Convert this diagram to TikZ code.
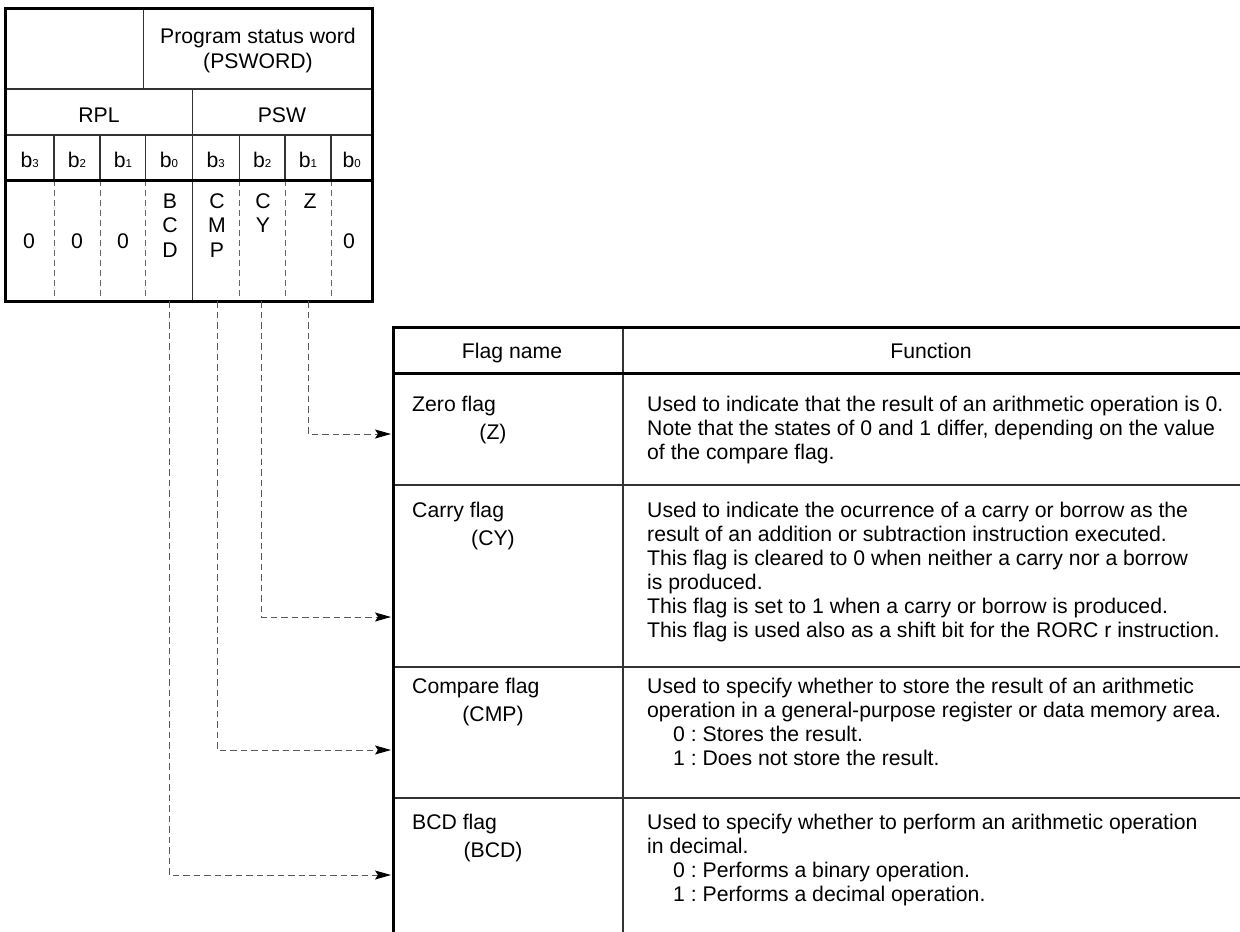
\documentclass[tikz,border=0pt]{standalone}
\usepackage{fontspec}
\setmainfont{Liberation Sans}
\usetikzlibrary{arrows.meta}
\frenchspacing
\newcommand{\llines}[1]{\begin{tabular}[t]{@{}l@{}}#1\end{tabular}}
\newcommand{\clines}[1]{\begin{tabular}[t]{@{}c@{}}#1\end{tabular}}
\newcommand{\bsub}[1]{b{\fontsize{11.5}{11.5}\selectfont #1}}
\newcommand{\ind}{\hspace*{26pt}}
\begin{document}
\begin{tikzpicture}[x=1pt,y=-1pt,
  font=\fontsize{21.2}{24}\selectfont,
  every node/.style={inner sep=0pt,text=black},
  thinline/.style={draw=black!80,line width=1.2pt},
  thickline/.style={draw=black,line width=3pt},
  sepdash/.style={draw=black!60,line width=1pt,dash pattern=on 6pt off 4pt},
  conn/.style={draw=black!65,line width=1pt,dash pattern=on 6.5pt off 4pt,
    -{Stealth[length=16pt,width=9pt,inset=3pt,color=black]}},
  txt/.style={anchor=base west},
  ctxt/.style={anchor=base}]
\useasboundingbox (0,0) rectangle (1240,932);

% ---------- top-left register table ----------
\draw[thinline] (5.5,89) -- (372.5,89);
\draw[thinline] (5.5,135) -- (372.5,135);
\draw[thinline] (143.5,8.5) -- (143.5,89);
\draw[thinline] (192.3,89) -- (192.3,301);
\foreach \x in {54,100,145.7,239.3,285,331}{
  \draw[thinline] (\x,135) -- (\x,180);
  \draw[sepdash] (\x,180) -- (\x,301);
}
\draw[thickline] (5.5,180) -- (372.5,180);
\draw[thickline] (5.5,8.5) rectangle (372.5,301);

\node[ctxt] (psword) at (258,43) {\clines{Program status word\\[1pt](PSWORD)}};
\node[ctxt] (rpl) at (99,122) {RPL};
\node[ctxt] (psw) at (282,122) {PSW};

\node[ctxt] (rb3) at (29.75,167) {\bsub{3}};
\node[ctxt] (rb2) at (77,167) {\bsub{2}};
\node[ctxt] (rb1) at (122.85,167) {\bsub{1}};
\node[ctxt] (rb0) at (169,167) {\bsub{0}};
\node[ctxt] (pb3) at (215.8,167) {\bsub{3}};
\node[ctxt] (pb2) at (262.15,167) {\bsub{2}};
\node[ctxt] (pb1) at (308,167) {\bsub{1}};
\node[ctxt] (pb0) at (351.75,167) {\bsub{0}};

\node[ctxt] (v3) at (29,248) {0};
\node[ctxt] (v2) at (77,248) {0};
\node[ctxt] (v1) at (123,248) {0};
\node[ctxt] (bcd) at (170,208) {\clines{B\\[0.5pt]C\\[0.5pt]D}};
\node[ctxt] (cmp) at (217,208) {\clines{C\\[0.5pt]M\\[0.5pt]P}};
\node[ctxt] (cy) at (263,208) {\clines{C\\[0.5pt]Y}};
\node[ctxt] (z) at (310,208) {Z};
\node[ctxt] (v0) at (349,248) {0};

% ---------- flag table ----------
\draw[thinline] (623,327) -- (623,932);
\foreach \y in {485,667,798}{
  \draw[thinline] (393,\y) -- (1240,\y);
}
\draw[draw=black,line width=2.5pt] (393,373.5) -- (1240,373.5);
\draw[thickline] (1240,327) -- (393,327) -- (393,932);

\node[ctxt] (hname) at (512,358) {Flag name};
\node[ctxt] (hfunc) at (931,358) {Function};

\node[txt] (zname) at (412,411) {Zero flag};
\node[ctxt] (zpar) at (493,439) {(Z)};
\node[txt] (zfun) at (647,411) {\llines{Used to indicate that the result of an arithmetic operation is 0.\\
Note that the states of 0 and 1 differ, depending on the value\\
of the compare flag.}};

\node[txt] (cyname) at (412,517) {Carry flag};
\node[ctxt] (cypar) at (493,545) {(CY)};
\node[txt] (cyfun) at (647,517) {\llines{Used to indicate the ocurrence of a carry or borrow as the\\
result of an addition or subtraction instruction executed.\\
This flag is cleared to 0 when neither a carry nor a borrow\\
is produced.\\
This flag is set to 1 when a carry or borrow is produced.\\
This flag is used also as a shift bit for the RORC r instruction.}};

\node[txt] (cmpname) at (412,693) {Compare flag};
\node[ctxt] (cmppar) at (493,721) {(CMP)};
\node[txt] (cmpfun) at (647,693) {\llines{Used to specify whether to store the result of an arithmetic\\
operation in a general-purpose register or data memory area.\\
\ind 0 : Stores the result.\\
\ind 1 : Does not store the result.}};

\node[txt] (bcdname) at (412,829) {BCD flag};
\node[ctxt] (bcdpar) at (493,857) {(BCD)};
\node[txt] (bcdfun) at (647,829) {\llines{Used to specify whether to perform an arithmetic operation\\
in decimal.\\
\ind 0 : Performs a binary operation.\\
\ind 1 : Performs a decimal operation.}};

% ---------- connectors ----------
\coordinate (bcdout) at (169,301);
\coordinate (cmpout) at (217,301);
\coordinate (cyout) at (261,301);
\coordinate (zout) at (308,301);
\coordinate (zin) at (391,434);
\coordinate (cyin) at (391,617);
\coordinate (cmpin) at (391,750);
\coordinate (bcdin) at (391,875);
\draw[conn] (zout) |- (zin);
\draw[conn] (cyout) |- (cyin);
\draw[conn] (cmpout) |- (cmpin);
\draw[conn] (bcdout) |- (bcdin);
\end{tikzpicture}
\end{document}
